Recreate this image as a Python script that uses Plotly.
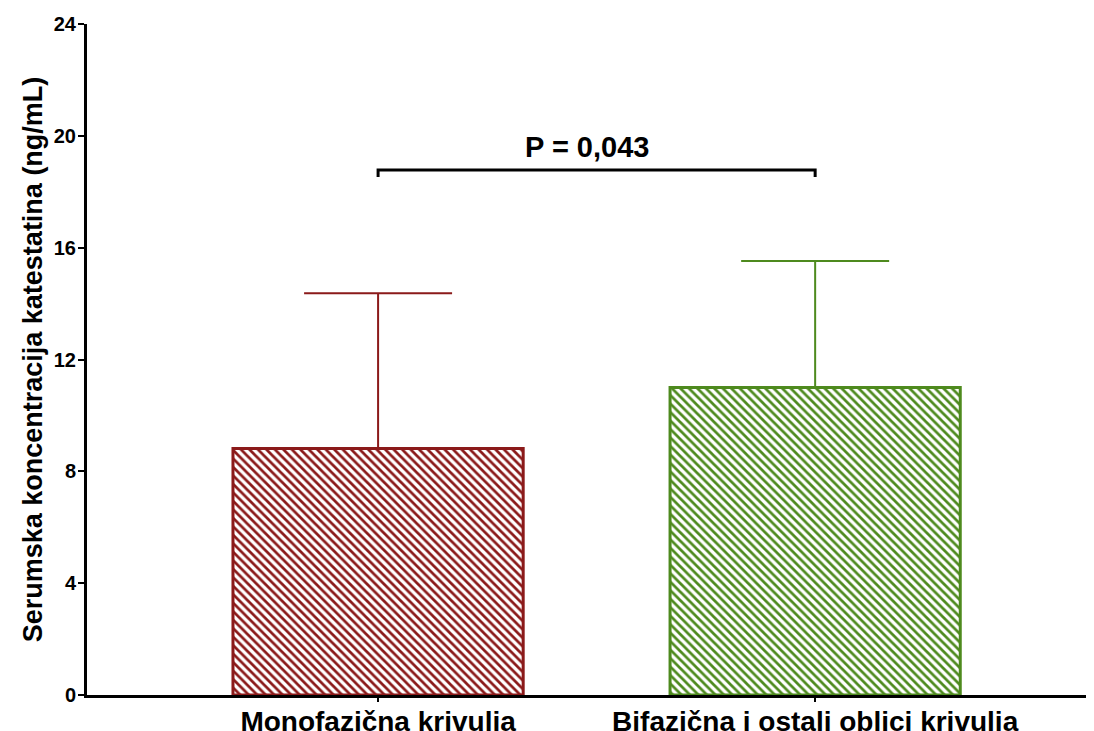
import plotly.graph_objects as go

categories = ["Monofazična krivulja", "Bifazična i ostali oblici krivulja"]
means = [8.82, 11.0]
sd_upper = [5.55, 4.52]
colors = ["#8B1A1A", "#4E8A1E"]
y_ticks = [0, 4, 8, 12, 16, 20, 24]
bracket_x = [0, 0, 1, 1]
bracket_y = [18.53, 18.78, 18.78, 18.53]
p_text = "P = 0,043"
p_y = 19.6
y_title = "Serumska koncentracija katestatina (ng/mL)"

FONT = "Liberation Sans, Arial, sans-serif"

fig = go.Figure()
for cat, m, sd, c in zip(categories, means, sd_upper, colors):
    fig.add_trace(go.Bar(
        x=[cat], y=[m], width=0.664,
        marker=dict(color="white", line=dict(color=c, width=3),
                    pattern=dict(shape="\\", fgcolor=c, bgcolor="white",
                                 size=6, solidity=0.45, fillmode="replace")),
        error_y=dict(type="data", symmetric=False, array=[sd], arrayminus=[0],
                     color=c, thickness=2, width=74),
        showlegend=False,
    ))

fig.add_trace(go.Scatter(
    x=[categories[i] for i in bracket_x], y=bracket_y, mode="lines",
    line=dict(color="black", width=3), showlegend=False, hoverinfo="skip",
))

fig.add_annotation(x=0.5, y=p_y, xref="x", yref="y", text=p_text, showarrow=False,
                   xshift=-10, font=dict(family=FONT, size=29, color="black", weight="bold"))

fig.update_layout(
    width=1094, height=731,
    margin=dict(l=79, r=8, t=16, b=44, autoexpand=False),
    plot_bgcolor="white", paper_bgcolor="white",
    barmode="overlay",
    font=dict(family=FONT, color="black"),
    xaxis=dict(type="category", range=[-0.666, 1.638], showline=True, linecolor="black",
               linewidth=3, ticks="outside", ticklen=4, tickwidth=2, tickcolor="black",
               showgrid=False, zeroline=False, automargin=False, ticklabelstandoff=-5,
               tickfont=dict(family=FONT, size=28, color="black", weight="bold")),
    yaxis=dict(range=[0, 24], tickvals=y_ticks, showline=True, linecolor="black",
               linewidth=3, ticks="outside", ticklen=6, tickwidth=2, tickcolor="black",
               showgrid=False, zeroline=False, automargin=False, ticklabelstandoff=-2,
               tickfont=dict(family=FONT, size=20, color="black", weight="bold"),
               title=dict(text=y_title, standoff=4,
                          font=dict(family=FONT, size=27, color="black", weight="bold"))),
)

fig.write_html("out.html")
